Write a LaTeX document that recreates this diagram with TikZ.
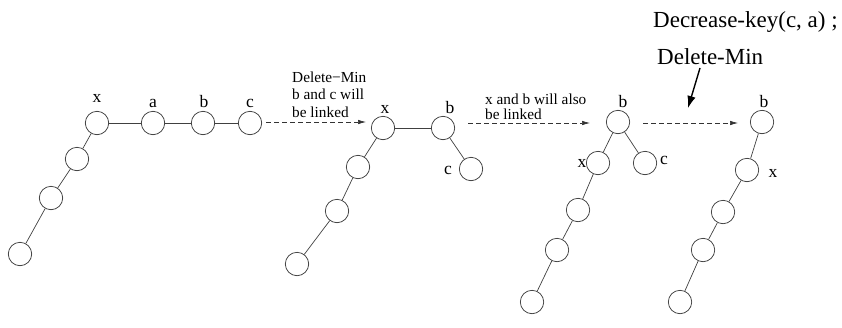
\documentclass[tikz,border=0pt]{standalone}
\usepackage{fontspec}
\setmainfont{Liberation Serif}
\usetikzlibrary{arrows.meta}
\begin{document}
\begin{tikzpicture}[x=1pt,y=-1pt,
 circ/.style={circle,draw=black!80,line width=0.7pt,minimum size=23.4pt,inner sep=0pt},
 edge/.style={draw=black!75,line width=0.7pt},
 lbl/.style={anchor=base,font=\fontsize{17.5}{17.5}\selectfont,inner sep=0pt},
 small/.style={anchor=base west,font=\fontsize{15.3}{15.3}\selectfont,inner sep=0pt},
 big/.style={anchor=base west,font=\fontsize{23}{23}\selectfont,inner sep=0pt},
 dasharrow/.style={draw=black!80,line width=0.7pt,dash pattern=on 5pt off 3pt,-{Latex[length=8pt,width=4.5pt]}},
 solidarrow/.style={draw=black,line width=1.4pt,-{Latex[length=12pt,width=8.5pt]}}
]
\useasboundingbox (0,0) rectangle (842,327);

% Tree 1
\node[circ] (t1x) at (97,123) {};
\node[circ] (t1a) at (153,123) {};
\node[circ] (t1b) at (203,123) {};
\node[circ] (t1c) at (250,123) {};
\node[circ] (t1p) at (77,159) {};
\node[circ] (t1q) at (51,198) {};
\node[circ] (t1r) at (20,254) {};
\draw[edge] (t1x) -- (t1a);
\draw[edge] (t1a) -- (t1b);
\draw[edge] (t1b) -- (t1c);
\draw[edge] (t1x) -- (t1p);
\draw[edge] (t1p) -- (t1q);
\draw[edge] (t1q) -- (t1r);
\node[lbl] (l1x) at (97,102) {x};
\node[lbl] (l1a) at (153,107) {a};
\node[lbl] (l1b) at (204,107) {b};
\node[lbl] (l1c) at (250,107) {c};

% Arrow 1
\coordinate (a1s) at (266,122);
\coordinate (a1e) at (366,122);
\draw[dasharrow] (a1s) -- (a1e);
\node[small] (d1) at (292,82) {Delete−Min};
\node[small] (d2) at (292,99.5) {b and c will};
\node[small] (d3) at (292,117) {be linked};

% Tree 2
\node[circ] (t2x) at (383,128) {};
\node[circ] (t2b) at (443,128) {};
\node[circ] (t2c) at (471,169) {};
\node[circ] (t2p) at (358,167) {};
\node[circ] (t2q) at (337,211) {};
\node[circ] (t2r) at (297,264) {};
\draw[edge] (t2x) -- (t2b);
\draw[edge] (t2b) -- (t2c);
\draw[edge] (t2x) -- (t2p);
\draw[edge] (t2p) -- (t2q);
\draw[edge] (t2q) -- (t2r);
\node[lbl] (l2x) at (385,113) {x};
\node[lbl] (l2b) at (450,113) {b};
\node[lbl] (l2c) at (448,174) {c};

% Arrow 2
\coordinate (a2s) at (468,123);
\coordinate (a2e) at (590,123);
\draw[dasharrow] (a2s) -- (a2e);
\node[small] (e1) at (485,104) {x and b will also};
\node[small] (e2) at (485,119) {be linked};

% Tree 3
\node[circ] (t3b) at (618,122) {};
\node[circ] (t3x) at (598,163) {};
\node[circ] (t3c) at (645,163) {};
\node[circ] (t3p) at (578,210) {};
\node[circ] (t3q) at (557,250) {};
\node[circ] (t3r) at (532,302) {};
\draw[edge] (t3b) -- (t3x);
\draw[edge] (t3b) -- (t3c);
\draw[edge] (t3x) -- (t3p);
\draw[edge] (t3p) -- (t3q);
\draw[edge] (t3q) -- (t3r);
\node[lbl] (l3b) at (623,107) {b};
\node[lbl] (l3x) at (582,167) {x};
\node[lbl] (l3c) at (664,164) {c};

% Arrow 3
\coordinate (a3s) at (643,123);
\coordinate (a3e) at (738,123);
\draw[dasharrow] (a3s) -- (a3e);
\node[big] (f1) at (653,27) {Decrease-key(c, a) ;};
\node[big] (f2) at (657,64) {Delete-Min};
\coordinate (sa) at (700,68);
\coordinate (se) at (688,108);
\draw[solidarrow] (sa) -- (se);

% Tree 4
\node[circ] (t4b) at (762,122) {};
\node[circ] (t4x) at (747,170) {};
\node[circ] (t4p) at (723,212) {};
\node[circ] (t4q) at (703,250) {};
\node[circ] (t4r) at (680,302) {};
\draw[edge] (t4b) -- (t4x);
\draw[edge] (t4x) -- (t4p);
\draw[edge] (t4p) -- (t4q);
\draw[edge] (t4q) -- (t4r);
\node[lbl] (l4b) at (764,107) {b};
\node[lbl] (l4x) at (773,177) {x};
\end{tikzpicture}
\end{document}
